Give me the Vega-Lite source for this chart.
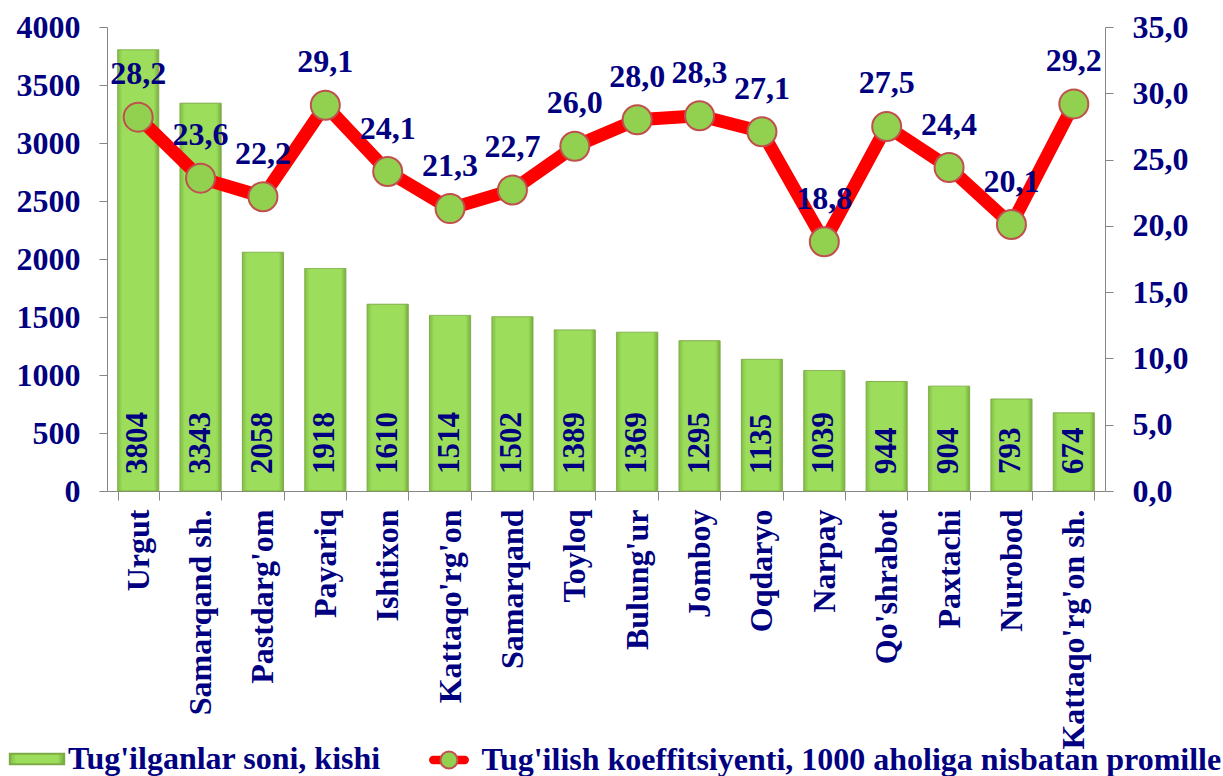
{
  "$schema": "https://vega.github.io/schema/vega-lite/v6.json",
  "width": 998,
  "height": 464,
  "autosize": {"type": "none"},
  "padding": {"left": 107, "top": 27, "right": 118, "bottom": 285},
  "background": "white",
  "config": {
    "view": {"stroke": null},
    "font": "Liberation Serif",
    "locale": {"number": {"decimal": ",", "thousands": " ", "grouping": [3], "currency": ["", ""]}},
    "axis": {
      "labelFont": "Liberation Serif", "labelFontWeight": "bold", "labelFontSize": 32, "labelColor": "#000080",
      "domainColor": "#868686", "tickColor": "#868686", "grid": false, "title": null, "labelLimit": 500
    },
    "legend": {
      "labelFont": "Liberation Serif", "labelFontWeight": "bold", "labelFontSize": 32, "labelColor": "#000080",
      "padding": 0, "title": null, "orient": "none", "labelLimit": 2000
    }
  },
  "data": {"values": [
    {"region": "Urgut", "births": 3804, "rate": 28.2},
    {"region": "Samarqand sh.", "births": 3343, "rate": 23.6},
    {"region": "Pastdarg'om", "births": 2058, "rate": 22.2},
    {"region": "Payariq", "births": 1918, "rate": 29.1},
    {"region": "Ishtixon", "births": 1610, "rate": 24.1},
    {"region": "Kattaqo'rg'on", "births": 1514, "rate": 21.3},
    {"region": "Samarqand", "births": 1502, "rate": 22.7},
    {"region": "Toyloq", "births": 1389, "rate": 26.0},
    {"region": "Bulung'ur", "births": 1369, "rate": 28.0},
    {"region": "Jomboy", "births": 1295, "rate": 28.3},
    {"region": "Oqdaryo", "births": 1135, "rate": 27.1},
    {"region": "Narpay", "births": 1039, "rate": 18.8},
    {"region": "Qo'shrabot", "births": 944, "rate": 27.5},
    {"region": "Paxtachi", "births": 904, "rate": 24.4},
    {"region": "Nurobod", "births": 793, "rate": 20.1},
    {"region": "Kattaqo'rg'on sh.", "births": 674, "rate": 29.2}
  ]},
  "encoding": {
    "x": {
      "field": "region", "type": "nominal", "sort": null,
      "scale": {"paddingInner": 0.34, "paddingOuter": 0.17},
      "axis": {"labelAngle": -90, "labelAlign": "right", "labelBaseline": "middle", "tickBand": "extent", "tickSize": 9, "labelPadding": 9}
    }
  },
  "layer": [
    {
      "layer": [
        {
          "mark": {"type": "bar", "stroke": "#7DAA45", "strokeWidth": 1,
            "fill": {"gradient": "linear", "x1": 0, "y1": 0, "x2": 1, "y2": 0, "stops": [
              {"offset": 0, "color": "#82BD46"}, {"offset": 0.12, "color": "#9CDE5C"}, {"offset": 0.88, "color": "#9CDE5C"}, {"offset": 1, "color": "#77AC3C"}]}},
          "encoding": {
            "y": {"field": "births", "type": "quantitative", "scale": {"domain": [0, 4000], "nice": false},
              "axis": {"orient": "left", "values": [0, 500, 1000, 1500, 2000, 2500, 3000, 3500, 4000], "format": "d", "tickSize": 8, "labelPadding": 19}},
            "strokeDash": {
              "datum": "Tug'ilganlar soni, kishi", "type": "nominal",
              "scale": {"range": [[1, 0]]},
              "legend": {
                "legendX": -86, "legendY": 716, "symbolSize": 289, "symbolStrokeWidth": 2,
                "symbolType": "M-3.2,-0.62H3.2V0.62H-3.2Z", "labelOffset": 15,
                "encode": {"symbols": {"update": {"fill": {"value": "#92D050"}, "stroke": {"value": "#6F9A3A"}, "strokeWidth": {"value": 1}, "strokeDash": {"value": [1, 0]}, "opacity": {"value": 1}, "size": {"value": 289}, "shape": {"value": "M-3.2,-0.62H3.2V0.62H-3.2Z"}}}}
              }
            }
          }
        },
        {
          "mark": {"type": "text", "angle": -90, "align": "left", "baseline": "middle", "dx": 17,
            "font": "Liberation Serif", "fontWeight": "bold", "fontSize": 31, "color": "#000080"},
          "encoding": {
            "y": {"datum": 0, "type": "quantitative"},
            "text": {"field": "births", "type": "quantitative", "format": "d"}
          }
        }
      ]
    },
    {
      "layer": [
        {
          "mark": {"type": "line", "strokeWidth": 13, "strokeJoin": "round", "strokeCap": "round"},
          "encoding": {
            "y": {"field": "rate", "type": "quantitative", "scale": {"domain": [0, 35], "nice": false},
              "axis": {"orient": "right", "values": [0, 5, 10, 15, 20, 25, 30, 35], "format": ".1f", "tickSize": 8, "labelPadding": 19}},
            "stroke": {
              "datum": "Tug'ilish koeffitsiyenti, 1000 aholiga nisbatan promille ", "type": "nominal",
              "scale": {"range": ["#FF0000"]},
              "legend": {
                "legendX": 326, "legendY": 717, "symbolSize": 289, "symbolStrokeWidth": 2, "labelOffset": 16.5,
                "symbolType": "M-1.85,-0.38H1.85A0.38,0.38 0 0 1 1.85,0.38H-1.85A0.38,0.38 0 0 1 -1.85,-0.38Z",
                "labelOpacity": 0, "zindex": 1,
                "encode": {"symbols": {"update": {"fill": {"value": "#FF0000"}, "stroke": {"value": "#FF0000"}, "strokeWidth": {"value": 2}, "opacity": {"value": 1}}}}
              }
            }
          }
        },
        {
          "mark": {"type": "point", "filled": true, "fill": "#92D050", "stroke": "#C0504D", "strokeWidth": 2, "size": 841, "opacity": 1},
          "encoding": {
            "y": {"field": "rate", "type": "quantitative"},
            "shape": {
              "datum": "Tug'ilish koeffitsiyenti, 1000 aholiga nisbatan promille", "type": "nominal",
              "scale": {"range": ["circle"]},
              "legend": {
                "legendX": 326, "legendY": 717, "symbolSize": 289, "symbolStrokeWidth": 2, "labelOffset": 16.5, "zindex": 2,
                "encode": {"symbols": {"update": {"fill": {"value": "#92D050"}, "stroke": {"value": "#C0504D"}, "strokeWidth": {"value": 2}, "opacity": {"value": 1}}}}
              }
            }
          }
        },
        {
          "mark": {"type": "text", "align": "center", "baseline": "alphabetic", "dy": -33,
            "font": "Liberation Serif", "fontWeight": "bold", "fontSize": 32, "color": "#000080"},
          "encoding": {
            "y": {"field": "rate", "type": "quantitative"},
            "text": {"field": "rate", "type": "quantitative", "format": ".1f"}
          }
        }
      ]
    }
  ],
  "resolve": {"scale": {"y": "independent"}}
}
